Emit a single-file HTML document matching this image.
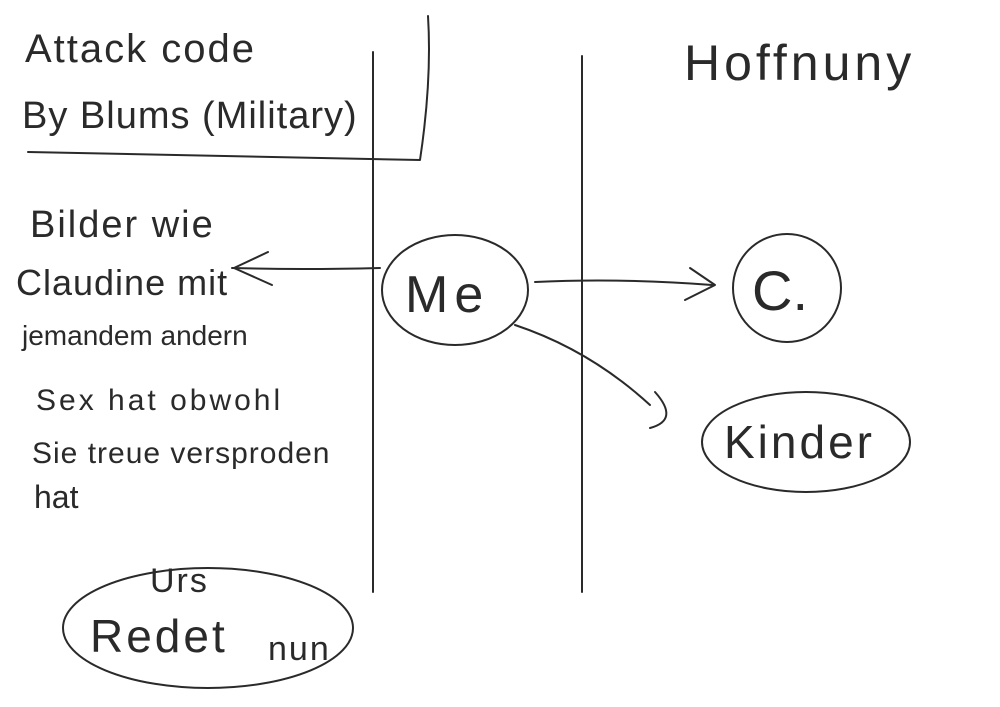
<!DOCTYPE html>
<html><head><meta charset="utf-8"><style>
html,body{margin:0;padding:0;background:#fff;width:1000px;height:707px;overflow:hidden}
svg text{font-family:"Liberation Sans",sans-serif;fill:#2a2a2a;font-weight:normal}
</style></head><body>
<svg width="1000" height="707" viewBox="0 0 1000 707" xmlns="http://www.w3.org/2000/svg">
<g fill="none" stroke="#2a2a2a" stroke-width="2" stroke-linecap="round" stroke-linejoin="round">
<path d="M373 52 L373 592"/>
<path d="M582 56 L582 592"/>
<path d="M428 16 Q432 80 420 160 L28 152"/>
<ellipse cx="455" cy="290" rx="73" ry="55"/>
<circle cx="787" cy="288" r="54"/>
<ellipse cx="806" cy="442" rx="104" ry="50"/>
<ellipse cx="208" cy="628" rx="145" ry="60"/>
<path d="M380 268 Q300 270 232 268"/>
<path d="M268 252 L234 268 L272 285"/>
<path d="M535 282 Q620 278 712 285"/>
<path d="M690 268 L715 285 L685 300"/>
<path d="M515 325 Q590 350 650 405"/>
<path d="M655 392 Q680 420 650 428"/>
</g>
<text x="25" y="62" font-size="40" letter-spacing="2">Attack code</text>
<text x="22" y="128" font-size="38" letter-spacing="1">By Blums (Military)</text>
<text x="684" y="80" font-size="50" letter-spacing="4">Hoffnuny</text>
<text x="30" y="237" font-size="38" letter-spacing="2">Bilder wie</text>
<text x="16" y="295" font-size="36" letter-spacing="1">Claudine mit</text>
<text x="22" y="345" font-size="28">jemandem andern</text>
<text x="36" y="410" font-size="30" letter-spacing="3">Sex hat obwohl</text>
<text x="32" y="463" font-size="30" letter-spacing="1">Sie treue versproden</text>
<text x="34" y="508" font-size="32">hat</text>
<text x="405" y="312" font-size="52" letter-spacing="6">Me</text>
<text x="752" y="310" font-size="56">C.</text>
<text x="724" y="458" font-size="46" letter-spacing="3">Kinder</text>
<text x="150" y="592" font-size="34" letter-spacing="2">Urs</text>
<text x="90" y="652" font-size="46" letter-spacing="3">Redet</text>
<text x="268" y="660" font-size="34" letter-spacing="2">nun</text>
</svg>
</body></html>
